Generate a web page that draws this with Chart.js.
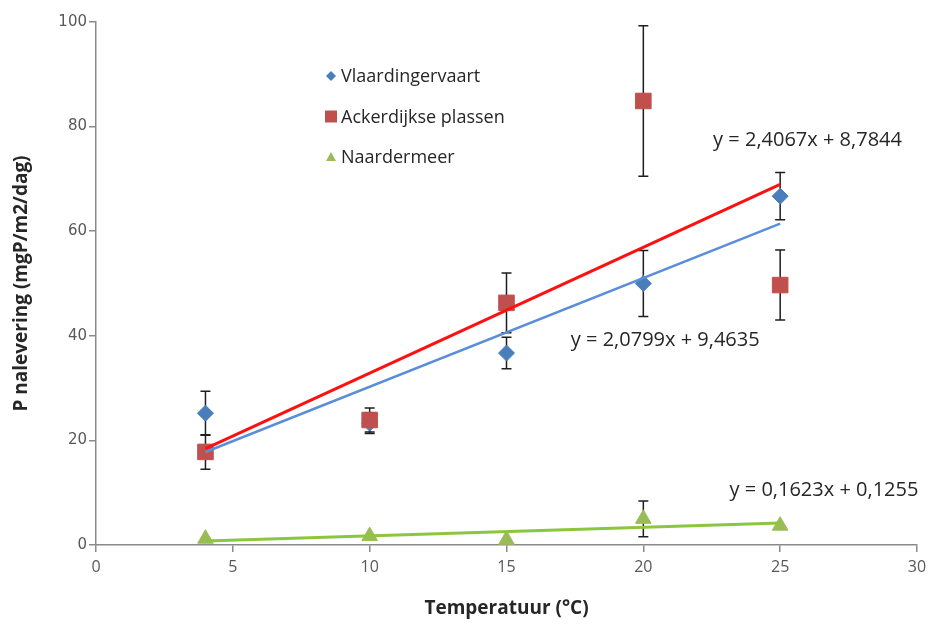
<!DOCTYPE html>
<html>
<head>
<meta charset="utf-8">
<script src="https://cdn.jsdelivr.net/npm/chart.js@4/dist/chart.umd.min.js"></script>
<style>
  html, body { margin: 0; padding: 0; background: #fff; }
  #wrap { width: 935px; height: 624px; }
</style>
</head>
<body>
<div id="wrap"><canvas id="pChart" width="935" height="624"></canvas></div>
<script>
// temperatures (°C)
const temps = [4, 10, 15, 20, 25];

// P release per site (mgP/m2/dag) and their error bars
const vlaardingen = [25.2, 23.3, 36.7, 50.0, 66.7];
const vlaardingenErr = [4.2, 2.0, 3.0, 6.3, 4.5];
const ackerdijk = [17.8, 23.9, 46.3, 84.9, 49.7];
const ackerdijkErr = [3.3, 2.3, 5.7, 14.4, 6.7];
const naardermeer = [1.2, 1.7, 1.0, 5.0, 3.7];
const naardermeerErr = [0, 0, 0, 3.4, 0];

// linear trend lines: [slope, intercept]
const trendV = [2.0799, 9.4635];
const trendA = [2.4067, 8.7844];
const trendN = [0.1623, 0.1255];
const trendLabels = ["y = 2,0799x + 9,4635", "y = 2,4067x + 8,7844", "y = 0,1623x + 0,1255"];
// label anchors in data units [x, y]
const trendLabelPos = [[20.8, 39.2], [26.0, 77.4], [26.6, 10.5]];

const xTicks = [0, 5, 10, 15, 20, 25, 30];
const yTicks = [0, 20, 40, 60, 80, 100];

const BLUE = "#4a7ebb";
const RED = "#c0504d";
const GREEN = "#9bbb59";

function pts(ys) {
  return temps.map((t, i) => ({ x: t, y: ys[i] }));
}
function trend(c) {
  const x0 = temps[0], x1 = temps[temps.length - 1];
  return [{ x: x0, y: c[0] * x0 + c[1] }, { x: x1, y: c[0] * x1 + c[1] }];
}

const errors = [vlaardingenErr, ackerdijkErr, naardermeerErr];

const errorBars = {
  id: "errorBars",
  beforeDatasetsDraw(chart) {
    const ctx = chart.ctx;
    const xs = chart.scales.x, ys = chart.scales.y;
    ctx.save();
    ctx.strokeStyle = "#1e1e1e";
    ctx.lineWidth = 1.5;
    [0, 1, 2].forEach(di => {
      const data = chart.data.datasets[di].data;
      data.forEach((p, i) => {
        const e = errors[di][i];
        if (!e) return;
        const px = xs.getPixelForValue(p.x);
        const top = ys.getPixelForValue(p.y + e);
        const bot = ys.getPixelForValue(p.y - e);
        ctx.beginPath();
        ctx.moveTo(px, top); ctx.lineTo(px, bot);
        ctx.moveTo(px - 5, top); ctx.lineTo(px + 5, top);
        ctx.moveTo(px - 5, bot); ctx.lineTo(px + 5, bot);
        ctx.stroke();
      });
    });
    ctx.restore();
  }
};

const extras = {
  id: "extras",
  afterDraw(chart) {
    const ctx = chart.ctx;
    const xs = chart.scales.x, ys = chart.scales.y;
    ctx.save();
    // trend equations
    ctx.fillStyle = "#262626";
    ctx.font = "20px 'Open Sans'";
    ctx.textAlign = "center";
    ctx.textBaseline = "middle";
    trendLabels.forEach((t, i) => {
      ctx.fillText(t, xs.getPixelForValue(trendLabelPos[i][0]), ys.getPixelForValue(trendLabelPos[i][1]));
    });
    // legend inside the plot
    const items = [
      { text: "Vlaardingervaart", color: BLUE, shape: "diamond" },
      { text: "Ackerdijkse plassen", color: RED, shape: "square" },
      { text: "Naardermeer", color: GREEN, shape: "triangle" }
    ];
    ctx.textAlign = "left";
    ctx.font = "18px 'Open Sans'";
    items.forEach((it, i) => {
      const lx = 331, ly = 76 + i * 40.5;
      ctx.fillStyle = it.color;
      ctx.beginPath();
      if (it.shape === "diamond") {
        ctx.moveTo(lx, ly - 5); ctx.lineTo(lx + 5, ly); ctx.lineTo(lx, ly + 5); ctx.lineTo(lx - 5, ly);
      } else if (it.shape === "square") {
        ctx.rect(lx - 6, ly - 6, 12, 12);
      } else {
        ctx.moveTo(lx, ly - 5); ctx.lineTo(lx + 5, ly + 4); ctx.lineTo(lx - 5, ly + 4);
      }
      ctx.closePath();
      ctx.fill();
      ctx.fillStyle = "#262626";
      ctx.fillText(it.text, lx + 10, ly + 1);
    });
    ctx.restore();
  }
};

new Chart(document.getElementById("pChart"), {
  type: "scatter",
  data: {
    datasets: [
      { label: "Vlaardingervaart", data: pts(vlaardingen), pointStyle: "rectRot", radius: 8,
        backgroundColor: BLUE, borderColor: BLUE, order: 2 },
      { label: "Ackerdijkse plassen", data: pts(ackerdijk), pointStyle: "rect", radius: 11,
        backgroundColor: RED, borderColor: RED, order: 1 },
      { label: "Naardermeer", data: pts(naardermeer), pointStyle: "triangle", radius: 9,
        backgroundColor: GREEN, borderColor: GREEN, order: 3 },
      { type: "line", label: "trendV", data: trend(trendV), borderColor: "#5b8ed8", borderWidth: 2.5,
        pointRadius: 0, fill: false, order: 0 },
      { type: "line", label: "trendA", data: trend(trendA), borderColor: "#ff1010", borderWidth: 3,
        pointRadius: 0, fill: false, order: 0 },
      { type: "line", label: "trendN", data: trend(trendN), borderColor: "#8cc63f", borderWidth: 3,
        pointRadius: 0, fill: false, order: 0 }
    ]
  },
  options: {
    responsive: false,
    animation: false,
    layout: { padding: { top: 22, right: 18, left: 0, bottom: 0 } },
    plugins: { legend: { display: false }, tooltip: { enabled: false } },
    scales: {
      x: {
        type: "linear", min: 0, max: 30,
        afterBuildTicks: s => { s.ticks = xTicks.map(v => ({ value: v })); },
        afterFit: s => { s.height = 79; },
        border: { color: "#8a8a8a", width: 1.5 },
        grid: { drawOnChartArea: false, tickLength: 7, color: "#8a8a8a", lineWidth: 1.5 },
        ticks: { color: "#595959", padding: 6, font: { family: "'Open Sans'", size: 16 } },
        title: { display: true, text: "Temperatuur (°C)", color: "#262626",
          font: { family: "'Open Sans'", size: 19, weight: "bold" }, padding: { top: 12, bottom: 4 } }
      },
      y: {
        type: "linear", min: 0, max: 100,
        afterBuildTicks: s => { s.ticks = yTicks.map(v => ({ value: v })); },
        afterFit: s => { s.width = 96; },
        border: { color: "#8a8a8a", width: 1.5 },
        grid: { drawOnChartArea: false, tickLength: 7, color: "#8a8a8a", lineWidth: 1.5 },
        ticks: { color: "#595959", padding: 2, font: { family: "'DejaVu Sans'", size: 15 } },
        title: { display: true, text: "P nalevering (mgP/m2/dag)", color: "#262626",
          font: { family: "'Open Sans'", size: 19, weight: "bold" }, padding: { top: 10 } }
      }
    }
  },
  plugins: [errorBars, extras]
});
</script>
</body>
</html>
